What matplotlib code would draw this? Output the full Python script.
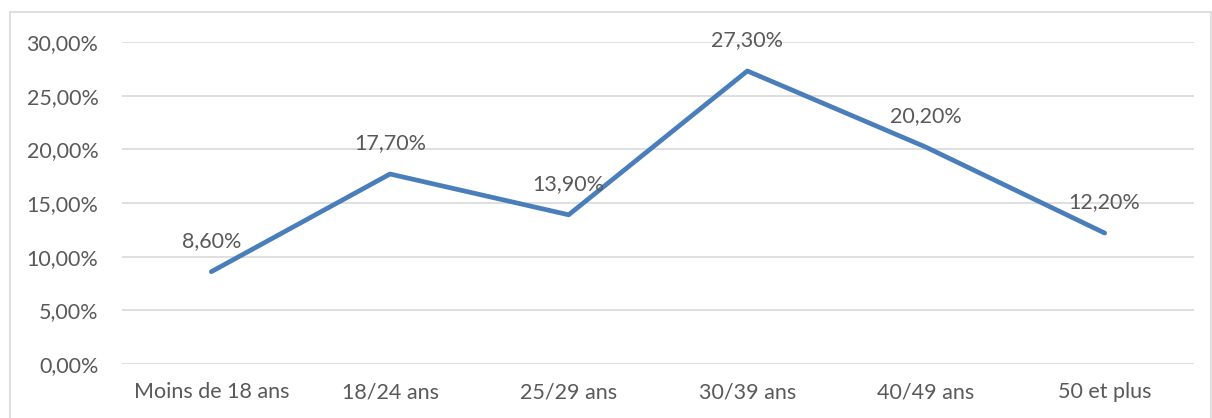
import matplotlib
matplotlib.use("Agg")
import matplotlib.pyplot as plt
from matplotlib.patches import Rectangle
from matplotlib.ticker import FuncFormatter

categories = ["Moins de 18 ans", "18/24 ans", "25/29 ans", "30/39 ans", "40/49 ans", "50 et plus"]
values = [8.6, 17.7, 13.9, 27.3, 20.2, 12.2]
yticks = [0, 5, 10, 15, 20, 25, 30]

plt.rcParams['font.family'] = ['Lato', 'DejaVu Sans']
W, H = 1212, 418
fig = plt.figure(figsize=(W/100, H/100), dpi=100)
ax = fig.add_axes([122/W, 1-364/H, (1194-122)/W, (364-42)/H])

text_color = "#595959"
fs = 15.5
x = list(range(len(categories)))
ax.plot(x, values, color="#4A7EBB", linewidth=3.4, solid_capstyle="round", zorder=3)
for xi, v in zip(x, values):
    ax.annotate(f"{v:.2f}%".replace(".", ","), (xi, v), xytext=(0, 31), textcoords="offset pixels",
                ha="center", va="center", fontsize=fs, color=text_color, zorder=4)

ax.set_xlim(-0.5, len(categories) - 0.5)
ax.set_ylim(0, 30)
ax.set_yticks(yticks)
ax.yaxis.set_major_formatter(FuncFormatter(lambda v, p: f"{v:.2f}%".replace(".", ",")))
ax.set_xticks(x)
ax.set_xticklabels(categories)
ax.grid(axis="y", color="#D9D9D9", linewidth=1.2)
ax.set_axisbelow(True)
for s in ax.spines.values():
    s.set_visible(False)
ax.tick_params(length=0, labelsize=fs, labelcolor=text_color)
ax.tick_params(axis="y", pad=17)
ax.tick_params(axis="x", pad=13)

fig.patches.append(Rectangle((10/W, -0.01), (W-10)/W - 1/W, 1-12/H + 0.01, transform=fig.transFigure,
                             fill=False, edgecolor="#D9D9D9", linewidth=1.2))
fig.savefig("out.png", dpi=100)
